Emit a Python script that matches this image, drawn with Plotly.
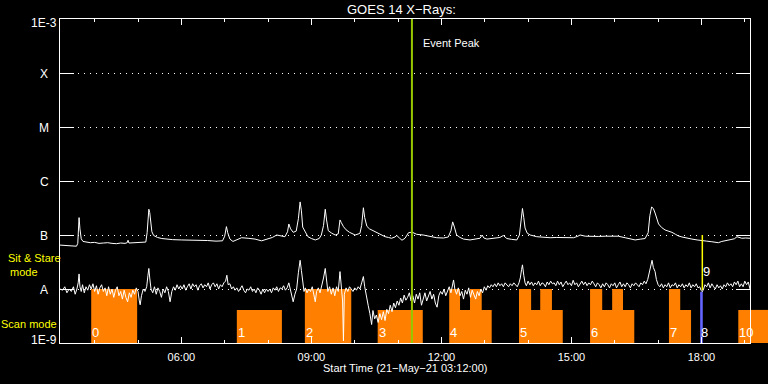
import math
import plotly.graph_objects as go

# ---------------- data (times in decimal hours UT, flux in nW/m^2) ----------------
long_t = [
    3.20, 3.30, 3.40, 3.50, 3.58, 3.61, 3.625, 3.64, 3.66, 3.69,
    3.73, 3.80, 3.90, 4.00, 4.10, 4.20, 4.30, 4.40, 4.50, 4.60,
    4.70, 4.75, 4.77, 4.79, 4.90, 5.00, 5.10, 5.18, 5.21, 5.23,
    5.25, 5.27, 5.29, 5.32, 5.36, 5.45, 5.55, 5.65, 5.80, 6.00,
    6.20, 6.40, 6.60, 6.80, 6.95, 7.00, 7.04, 7.07, 7.12, 7.19,
    7.25, 7.39, 7.54, 7.70, 7.85, 8.00, 8.10, 8.20, 8.30, 8.39,
    8.45, 8.48, 8.52, 8.58, 8.65, 8.70, 8.74, 8.77, 8.80, 8.86,
    8.92, 9.00, 9.09, 9.18, 9.23, 9.28, 9.32, 9.35, 9.39, 9.47,
    9.55, 9.62, 9.66, 9.69, 9.74, 9.80, 9.88, 10.01, 10.12, 10.16,
    10.20, 10.23, 10.28, 10.34, 10.39, 10.47, 10.55, 10.62, 10.70, 10.78,
    10.85, 10.93, 10.97, 11.03, 11.09, 11.16, 11.24, 11.32, 11.43, 11.58,
    11.74, 11.89, 12.05, 12.16, 12.22, 12.26, 12.30, 12.35, 12.43, 12.51,
    12.66, 12.80, 12.89, 12.94, 12.98, 13.05, 13.20, 13.35, 13.43, 13.51,
    13.62, 13.74, 13.80, 13.84, 13.87, 13.90, 13.93, 13.98, 14.05, 14.20,
    14.35, 14.51, 14.65, 14.82, 14.95, 15.05, 15.15, 15.20, 15.32, 15.45,
    15.62, 15.78, 15.93, 16.08, 16.24, 16.35, 16.47, 16.60, 16.70, 16.77,
    16.81, 16.85, 16.89, 16.93, 16.97, 17.01, 17.08, 17.16, 17.25, 17.32,
    17.40, 17.47, 17.55, 17.62, 17.70, 17.78, 17.90, 18.01, 18.12, 18.24,
    18.32, 18.39, 18.47, 18.55, 18.63, 18.70, 18.76, 18.82, 18.88, 18.93,
    19.02, 19.12,
]
long_flux_nw = [
    65, 64, 63, 64, 62, 70, 150, 210, 130, 85,
    76, 74, 72, 73, 70, 71, 72, 70, 69, 71,
    70, 72, 80, 71, 72, 71, 72, 74, 110, 230,
    300, 260, 180, 115, 98, 90, 86, 84, 82, 81,
    81, 80, 79, 77, 78, 95, 143, 110, 84, 76,
    80, 89, 87, 84, 78, 84, 90, 100, 96, 93,
    115, 160, 130, 112, 118, 200, 410, 280, 140, 110,
    93, 86, 81, 86, 100, 150, 300, 190, 120, 108,
    100, 105, 190, 170, 143, 125, 112, 100, 107, 150,
    320, 210, 145, 130, 124, 112, 107, 100, 93, 90,
    87, 92, 98, 88, 80, 87, 110, 113, 103, 100,
    93, 89, 88, 92, 120, 175, 140, 100, 90, 84,
    81, 84, 87, 100, 88, 84, 86, 90, 98, 86,
    83, 81, 100, 180, 310, 210, 135, 108, 100, 93,
    91, 89, 90, 89, 90, 89, 95, 100, 95, 94,
    94, 95, 94, 95, 89, 85, 81, 84, 86, 110,
    230, 330, 310, 255, 200, 160, 138, 124, 117, 112,
    103, 96, 92, 89, 86, 84, 81, 78, 77, 75,
    74, 72, 76, 78, 80, 81, 85, 93, 89, 87,
    88, 87,
]

short_t = [
    3.20, 3.26, 3.31, 3.36, 3.41, 3.46, 3.51, 3.55, 3.59, 3.62,
    3.64, 3.66, 3.69, 3.72, 3.76, 3.80, 3.84, 3.88, 3.92, 3.96,
    4.00, 4.04, 4.08, 4.12, 4.16, 4.20, 4.24, 4.28, 4.32, 4.36,
    4.40, 4.44, 4.48, 4.52, 4.56, 4.60, 4.64, 4.68, 4.72, 4.76,
    4.80, 4.84, 4.88, 4.92, 4.96, 5.00, 5.03, 5.05, 5.08, 5.12,
    5.16, 5.20, 5.23, 5.25, 5.27, 5.30, 5.34, 5.38, 5.42, 5.46,
    5.50, 5.54, 5.58, 5.62, 5.66, 5.70, 5.74, 5.78, 5.82, 5.86,
    5.90, 5.94, 5.98, 6.02, 6.06, 6.10, 6.14, 6.18, 6.22, 6.26,
    6.30, 6.34, 6.38, 6.42, 6.46, 6.50, 6.54, 6.58, 6.62, 6.66,
    6.70, 6.74, 6.78, 6.82, 6.86, 6.90, 6.94, 6.98, 7.02, 7.05,
    7.08, 7.12, 7.16, 7.20, 7.24, 7.28, 7.32, 7.36, 7.40, 7.44,
    7.48, 7.52, 7.56, 7.60, 7.64, 7.68, 7.72, 7.76, 7.80, 7.84,
    7.88, 7.92, 7.96, 8.00, 8.04, 8.08, 8.12, 8.16, 8.20, 8.24,
    8.28, 8.32, 8.36, 8.40, 8.44, 8.48, 8.51, 8.55, 8.58, 8.62,
    8.66, 8.70, 8.74, 8.77, 8.80, 8.83, 8.86, 8.90, 8.94, 8.98,
    9.02, 9.06, 9.09, 9.12, 9.16, 9.20, 9.24, 9.28, 9.32, 9.35,
    9.38, 9.42, 9.46, 9.50, 9.54, 9.58, 9.62, 9.66, 9.69, 9.72,
    9.74, 9.76, 9.80, 9.84, 9.88, 9.92, 9.96, 10.00, 10.04, 10.08,
    10.12, 10.16, 10.20, 10.23, 10.27, 10.31, 10.35, 10.39, 10.42, 10.46,
    10.50, 10.54, 10.58, 10.62, 10.66, 10.70, 10.74, 10.78, 10.82, 10.86,
    10.90, 10.94, 10.98, 11.02, 11.06, 11.10, 11.14, 11.18, 11.22, 11.26,
    11.30, 11.34, 11.38, 11.42, 11.46, 11.50, 11.54, 11.58, 11.62, 11.66,
    11.70, 11.74, 11.78, 11.82, 11.86, 11.90, 11.94, 11.98, 12.02, 12.06,
    12.10, 12.14, 12.18, 12.22, 12.25, 12.28, 12.31, 12.35, 12.39, 12.43,
    12.47, 12.51, 12.55, 12.59, 12.63, 12.67, 12.71, 12.75, 12.79, 12.83,
    12.87, 12.91, 12.95, 12.99, 13.03, 13.07, 13.11, 13.15, 13.19, 13.23,
    13.27, 13.31, 13.35, 13.39, 13.43, 13.47, 13.51, 13.55, 13.59, 13.63,
    13.67, 13.71, 13.75, 13.79, 13.82, 13.85, 13.87, 13.90, 13.93, 13.96,
    14.00, 14.04, 14.08, 14.12, 14.16, 14.20, 14.24, 14.28, 14.32, 14.36,
    14.40, 14.44, 14.48, 14.52, 14.56, 14.60, 14.64, 14.68, 14.72, 14.76,
    14.80, 14.84, 14.88, 14.92, 14.96, 15.00, 15.04, 15.08, 15.12, 15.16,
    15.20, 15.24, 15.28, 15.32, 15.36, 15.40, 15.44, 15.48, 15.52, 15.56,
    15.60, 15.64, 15.68, 15.72, 15.76, 15.80, 15.84, 15.88, 15.92, 15.96,
    16.00, 16.04, 16.08, 16.12, 16.16, 16.20, 16.24, 16.28, 16.32, 16.36,
    16.40, 16.44, 16.48, 16.52, 16.56, 16.60, 16.64, 16.68, 16.72, 16.76,
    16.80, 16.83, 16.86, 16.89, 16.93, 16.96, 17.00, 17.04, 17.08, 17.12,
    17.16, 17.20, 17.24, 17.28, 17.32, 17.36, 17.40, 17.44, 17.48, 17.52,
    17.56, 17.60, 17.64, 17.68, 17.72, 17.76, 17.80, 17.84, 17.88, 17.92,
    17.96, 17.99, 18.02, 18.05, 18.08, 18.12, 18.16, 18.20, 18.24, 18.28,
    18.32, 18.36, 18.40, 18.44, 18.48, 18.52, 18.56, 18.60, 18.64, 18.68,
    18.72, 18.76, 18.80, 18.84, 18.88, 18.92, 18.96, 19.00, 19.04, 19.08,
    19.12,
]
short_flux_nw = [
    10, 9.5, 11, 8.5, 10, 9, 11, 8, 10, 13,
    19, 11, 9, 12, 8.5, 11, 9.5, 12, 10, 12.5,
    9, 11.5, 8, 10.5, 12, 9, 10.5, 7.5, 11, 8,
    10, 7, 9.5, 11, 7.5, 9, 6.5, 9.5, 7, 5.8,
    8.5, 7, 9.5, 8, 10.5, 9, 6, 5.1, 7.5, 10,
    9, 11, 18, 24, 16, 10, 8.5, 11, 8, 10.5,
    9, 7, 10, 8.5, 11, 9, 5.8, 9, 11, 9.5,
    12, 10, 11.5, 10, 12, 9.5, 11, 12.5, 10, 12.5,
    11, 12, 9.5, 11.5, 12.5, 10.5, 12, 11, 13, 10,
    12, 13, 11, 12.5, 10, 12, 11, 13, 14, 18,
    12, 12.5, 10, 11, 9.5, 10.5, 9, 10, 11.5, 9.5,
    8.5, 10, 9.5, 11, 9, 10, 8.5, 10.5, 9.5, 8,
    10, 8.5, 10, 9, 10, 8.5, 10.5, 9.5, 11, 9,
    10.5, 10, 11.5, 9.5, 10.5, 13, 10, 7.5, 5.8, 8,
    10, 20, 34, 22, 12, 9, 10.5, 8.5, 10, 9,
    11, 7.5, 5.8, 9, 10.5, 8.5, 11, 16, 24, 14,
    9, 11, 8, 10.5, 7.5, 11, 9, 21, 12, 6,
    1.1, 8, 10.5, 9, 11, 10, 9, 10.5, 9.5, 11,
    10, 13, 17, 11, 7, 5, 3.5, 2.2, 4, 2.8,
    3.3, 2.4, 3.5, 2.7, 3.8, 2.6, 4.2, 3.5, 5, 3.8,
    5.5, 4.5, 6, 5, 6.8, 5.5, 7.7, 6.2, 7, 8.5,
    6, 7.5, 5.5, 8, 6.5, 8.5, 5, 7, 8.5, 6,
    7.5, 9, 6.5, 8, 5.5, 4.6, 7.5, 9, 8, 10,
    7.5, 9.5, 11, 8.5, 12, 14.7, 10, 8, 10.5, 7.5,
    9, 6.5, 9.5, 8, 10.5, 7, 9.5, 8, 6.5, 9,
    7.5, 10, 8.5, 11, 9.5, 11.5, 10.5, 12, 11, 12.5,
    11, 13, 11.5, 12.5, 11, 13, 12, 11, 12.5, 11.5,
    13, 12, 11, 13, 16, 23, 28, 18, 13, 11.5,
    14, 12, 13.5, 11.5, 13, 12, 14, 11.5, 13, 12.5,
    11, 13.5, 12, 14, 12.5, 13, 11.5, 14, 12, 13.5,
    11, 12.5, 14, 12, 13, 11.5, 14.5, 12, 13, 11,
    12.5, 14, 12, 13.5, 11.5, 13, 12, 14, 12.5, 11,
    13, 12, 10.5, 12.5, 11, 13, 12, 10.5, 12.5, 11.5,
    13, 10.5, 12, 13.5, 11, 12.5, 11, 13, 12, 10.5,
    12.5, 11.5, 13, 12, 11, 13, 12, 14, 12.5, 15,
    22, 30, 34, 25, 21, 15, 12, 11, 12.5, 10.5,
    12, 11, 13, 10.5, 12, 11.5, 13, 10.5, 12, 11,
    12.5, 10.5, 12, 11, 13, 10.5, 12, 11, 12.5, 10.5,
    11, 9.5, 8.9, 10, 12, 11, 13, 10.5, 12.5, 11,
    10, 12, 10.5, 11.5, 10, 12, 11, 13, 11.5, 12.5,
    11, 13.5, 12, 14, 11, 12.5, 11, 14, 12, 13.5,
    10,
]

# observing-mode segments (orange)
seg_start = [3.92, 7.28, 8.85, 10.53, 12.18, 12.43, 12.66, 12.93, 13.79, 14.07,
             14.28, 14.55, 15.43, 15.71, 15.94, 16.19, 17.25, 17.51, 18.85]
seg_end = [4.98, 8.32, 9.92, 11.57, 12.43, 12.66, 12.93, 13.16, 14.07, 14.28,
           14.55, 14.80, 15.71, 15.94, 16.19, 16.45, 17.51, 17.76, 19.60]
seg_mode = ["stare", "scan", "stare", "scan", "stare", "scan", "stare", "scan", "stare", "scan",
            "stare", "scan", "stare", "scan", "stare", "scan", "stare", "scan", "scan"]
mode_level_nw = {"stare": 10.0, "scan": 4.1}

obs_labels = ["0", "1", "2", "3", "4", "5", "6", "7", "8", "10"]
obs_label_t = [3.92, 7.28, 8.85, 10.53, 12.18, 13.79, 15.43, 17.25, 17.97, 18.85]

blue_obs = dict(start=17.97, end=18.03, top_nw=8.9)
event_peak_t = 11.32
event9 = dict(t=18.02, top_nw=100.0, bottom_nw=9.6, label="9", label_nw=20.7)

y_tick_vals = [1e-9, 1e-8, 1e-7, 1e-6, 1e-5, 1e-4, 1e-3]
y_tick_text = ["1E-9", "A", "B", "C", "M", "X", "1E-3"]
x_tick_vals = [6, 9, 12, 15, 18]
x_tick_text = ["06:00", "09:00", "12:00", "15:00", "18:00"]
x_minor_vals = [4, 5, 7, 8, 10, 11, 13, 14, 16, 17, 19]
x_range = [3.2, 19.12]

# ---------------- figure ----------------
NW = 1e-9
ORANGE = "#ff8000"
FONT = "Liberation Sans"

fig = go.Figure()

# orange observation blocks
bx, by = [], []
for s, e, m in zip(seg_start, seg_end, seg_mode):
    top = mode_level_nw[m] * NW
    bx += [s, s, e, e, s, None]
    by += [1e-9, top, top, 1e-9, 1e-9, None]
fig.add_trace(go.Scatter(x=bx, y=by, mode="lines", fill="toself", fillcolor=ORANGE,
                         line=dict(width=0, color=ORANGE), hoverinfo="skip"))

# blue observation
b = blue_obs
fig.add_trace(go.Scatter(x=[b["start"], b["start"], b["end"], b["end"], b["start"]],
                         y=[1e-9, b["top_nw"] * NW, b["top_nw"] * NW, 1e-9, 1e-9],
                         mode="lines", fill="toself", fillcolor="#6464ff",
                         line=dict(width=0, color="#6464ff"), hoverinfo="skip"))

# GOES curves
fig.add_trace(go.Scatter(x=long_t, y=[v * NW for v in long_flux_nw], mode="lines",
                         line=dict(color="white", width=1)))
fig.add_trace(go.Scatter(x=short_t, y=[v * NW for v in short_flux_nw], mode="lines",
                         line=dict(color="white", width=1)))

# event peak line
fig.add_trace(go.Scatter(x=[event_peak_t, event_peak_t], y=[1e-9, 1e-3], mode="lines",
                         line=dict(color="#96c800", width=2)))
# event 9 marker line
fig.add_trace(go.Scatter(x=[event9["t"], event9["t"]],
                         y=[event9["bottom_nw"] * NW, event9["top_nw"] * NW], mode="lines",
                         line=dict(color="#ffff00", width=1.5)))

x0, x1 = x_range
shapes = []
for s, e, m in zip(seg_start, seg_end, seg_mode):
    if e > x1:
        shapes.append(dict(type="rect", xref="paper", yref="paper", layer="below",
                           x0=1.0, x1=(e - x0) / (x1 - x0),
                           y0=0, y1=(math.log10(mode_level_nw[m] * NW) + 9) / 6,
                           fillcolor=ORANGE, line=dict(width=0)))

ann = []
# y tick labels (centred like the original)
for v, txt in zip(y_tick_vals, y_tick_text):
    ys = 3 if v == y_tick_vals[0] else (-4 if v == y_tick_vals[-1] else -1)
    ann.append(dict(x=-16 / 690, xref="paper", y=math.log10(v), yref="y", text=txt,
                    showarrow=False, xanchor="center", yanchor="middle", yshift=ys,
                    font=dict(family=FONT, size=12, color="white")))
# observation numbers
for lab, t in zip(obs_labels, obs_label_t):
    ann.append(dict(x=t, xref="x", y=10.3 / 324, yref="paper", text=lab, showarrow=False,
                    xanchor="left", yanchor="middle", xshift=-1,
                    font=dict(family=FONT, size=13, color="white")))
ann.append(dict(x=event9["t"], xref="x", y=math.log10(event9["label_nw"] * NW), yref="y",
                text=event9["label"], showarrow=False, xanchor="left", yanchor="middle",
                xshift=-1, font=dict(family=FONT, size=13, color="white")))
# texts
ann.append(dict(x=event_peak_t, xref="x", y=(343 - 43) / 324, yref="paper", text="Event Peak",
                showarrow=False, xanchor="left", yanchor="middle", xshift=9,
                font=dict(family=FONT, size=11, color="white")))
ann.append(dict(x=(401.7 - 60) / 690, xref="paper", y=1 + 10 / 324, yref="paper",
                text="GOES 14 X\u2212Rays:", showarrow=False, xanchor="center", yanchor="middle",
                font=dict(family=FONT, size=13, color="white")))
ann.append(dict(x=0.5, xref="paper", y=-25.3 / 324, yref="paper",
                text="Start Time (21\u2212May\u221221 03:12:00)", showarrow=False,
                xanchor="center", yanchor="middle",
                font=dict(family=FONT, size=11, color="white")))
ann.append(dict(x=-26 / 690, xref="paper", y=(343 - 258) / 324, yref="paper", text="Sit & Stare",
                showarrow=False, xanchor="center", yanchor="middle",
                font=dict(family=FONT, size=11, color="#ffff00")))
ann.append(dict(x=-36 / 690, xref="paper", y=(343 - 272) / 324, yref="paper", text="mode",
                showarrow=False, xanchor="center", yanchor="middle",
                font=dict(family=FONT, size=11, color="#ffff00")))
ann.append(dict(x=-31 / 690, xref="paper", y=(343 - 324) / 324, yref="paper", text="Scan mode",
                showarrow=False, xanchor="center", yanchor="middle",
                font=dict(family=FONT, size=11, color="#ffff00")))

fig.update_layout(
    width=768, height=384,
    margin=dict(l=60, r=18, t=19, b=41),
    paper_bgcolor="black", plot_bgcolor="black",
    showlegend=False,
    font=dict(family=FONT, size=11, color="white"),
    shapes=shapes,
    annotations=ann,
    xaxis=dict(range=x_range, showline=True, linecolor="white", linewidth=1, mirror="ticks",
               ticks="inside", ticklen=6, tickcolor="white", tickwidth=1,
               tickvals=x_tick_vals, ticktext=x_tick_text, showgrid=False, zeroline=False,
               ticklabelstandoff=4, tickfont=dict(family=FONT, size=11, color="white"),
               minor=dict(tickvals=x_minor_vals, ticks="inside", ticklen=3,
                          tickcolor="white", showgrid=False)),
    yaxis=dict(type="log", range=[-9, -3], showline=True, linecolor="white", linewidth=1,
               mirror="ticks", ticks="inside", ticklen=14, tickcolor="white", tickwidth=1,
               tickvals=y_tick_vals, showticklabels=False,
               showgrid=True, gridcolor="white", gridwidth=1, griddash="1px,5px",
               zeroline=False),
)

fig.write_html("out.html", config={"displayModeBar": False})
